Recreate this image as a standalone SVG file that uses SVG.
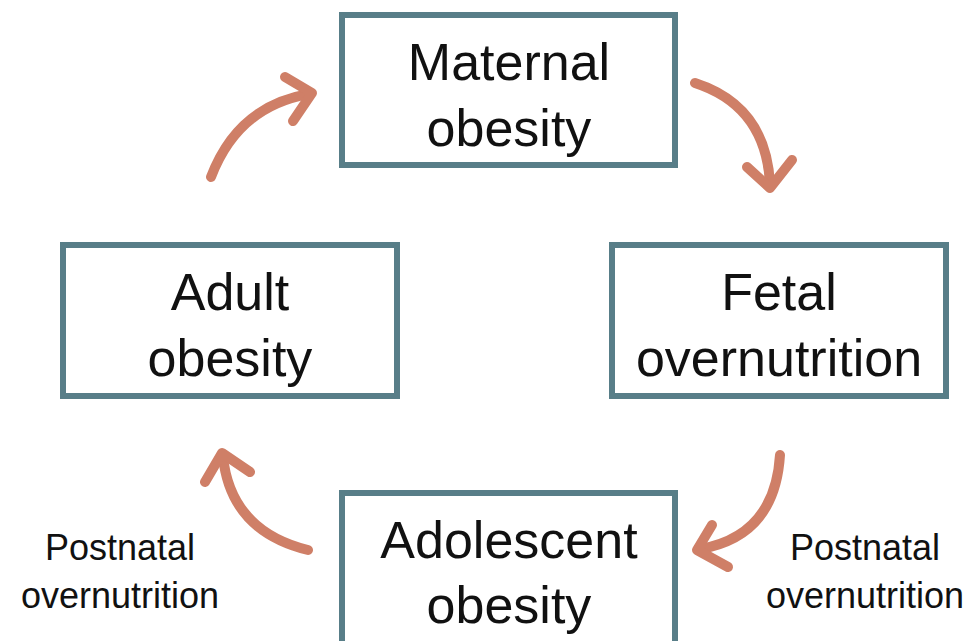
<svg xmlns="http://www.w3.org/2000/svg" width="973" height="641" viewBox="0 0 973 641">
<style>
.box{fill:#fff;stroke:#587E88;stroke-width:6}
.t{font-family:"Liberation Sans",Arial,sans-serif;font-size:52px;fill:#111;text-anchor:middle}
.s{font-family:"Liberation Sans",Arial,sans-serif;font-size:36px;fill:#111;text-anchor:middle}
.arr{fill:none;stroke:#CF7F67;stroke-width:10;stroke-linecap:round;stroke-linejoin:round}
</style>
<rect width="973" height="641" fill="#fff"/>
<g id="connectors">
<path class="arr" d="M211,177 Q238,106 309,94"/>
<polyline class="arr" points="285,77 312,93 293,121"/>
<path class="arr" d="M695,83 Q766,106 770,184"/>
<polyline class="arr" points="747,167 770,188 792,160"/>
<path class="arr" d="M780,455 Q775,536 700,549"/>
<polyline class="arr" points="712,525 697,550 728,567"/>
<path class="arr" d="M308,550 Q231,531 223,457"/>
<polyline class="arr" points="205,482 222,453 250,472"/>
</g>
<g id="maternal">
<rect class="box" x="342" y="15" width="333" height="150"/>
<text class="t" x="509" y="80">Maternal</text>
<text class="t" x="509" y="146">obesity</text>
</g>
<g id="fetal">
<rect class="box" x="612" y="245" width="334" height="151"/>
<text class="t" x="779" y="310">Fetal</text>
<text class="t" x="779" y="376">overnutrition</text>
</g>
<g id="adolescent">
<rect class="box" x="342" y="493" width="333" height="160"/>
<text class="t" x="509" y="558">Adolescent</text>
<text class="t" x="509" y="623">obesity</text>
</g>
<g id="adult">
<rect class="box" x="63" y="245" width="334" height="151"/>
<text class="t" x="230" y="310">Adult</text>
<text class="t" x="230" y="376">obesity</text>
</g>
<g id="label-left">
<text class="s" x="120" y="560">Postnatal</text>
<text class="s" x="120" y="608">overnutrition</text>
</g>
<g id="label-right">
<text class="s" x="865" y="560">Postnatal</text>
<text class="s" x="865" y="608">overnutrition</text>
</g>
</svg>
